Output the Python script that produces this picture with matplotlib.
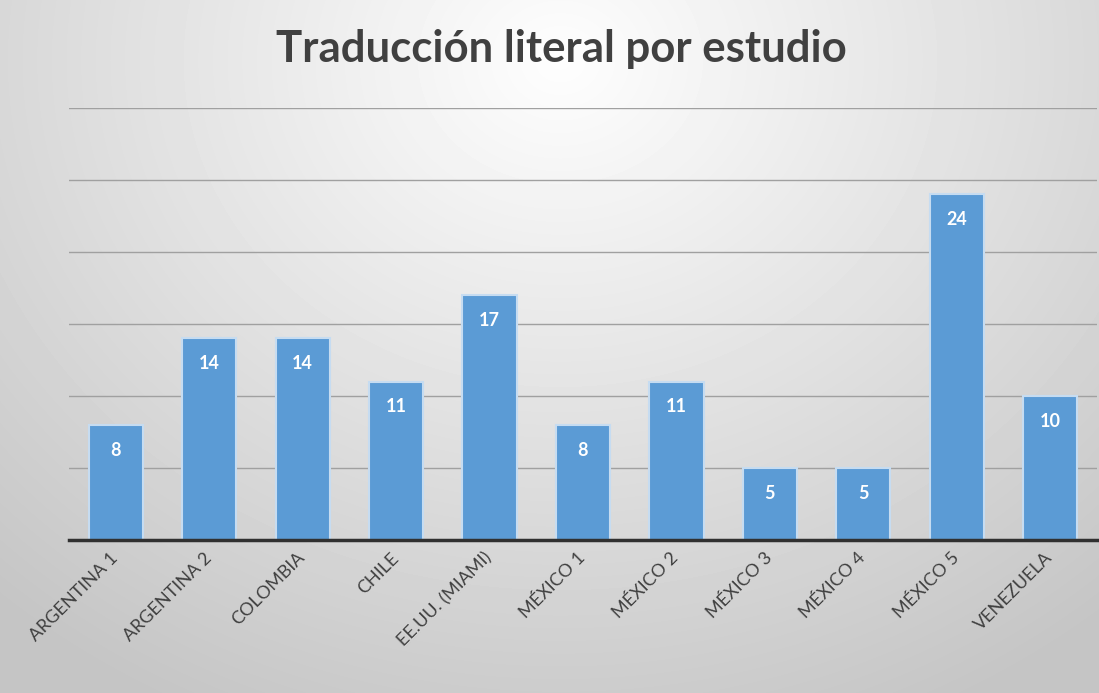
import numpy as np
import matplotlib
matplotlib.use("Agg")
import matplotlib.pyplot as plt
from matplotlib.transforms import ScaledTranslation

estudios = ["ARGENTINA 1", "ARGENTINA 2", "COLOMBIA", "CHILE", "EE.UU. (MIAMI)",
            "MÉXICO 1", "MÉXICO 2", "MÉXICO 3", "MÉXICO 4", "MÉXICO 5", "VENEZUELA"]
valores = [8, 14, 14, 11, 17, 8, 11, 5, 5, 24, 10]

plt.rcParams['font.family'] = ['Lato', 'DejaVu Sans']

fig = plt.figure(figsize=(10.99, 6.93), dpi=100)

# fondo con degradado radial (claro arriba al centro, gris hacia los bordes)
bg = fig.add_axes([0, 0, 1, 1], zorder=0)
yy, xx = np.mgrid[0:693, 0:1099]
d = np.sqrt(((xx - 560) / 900.0) ** 2 + ((yy - 60) / 780.0) ** 2)
gris = np.clip(0.995 - 0.24 * d, 0.77, 1.0)
bg.imshow(gris, cmap='gray', vmin=0, vmax=1, aspect='auto', extent=[0, 1, 0, 1])
bg.axis('off')

ax = fig.add_axes([69 / 1099, 1 - 540 / 693, (1097 - 69) / 1099, (540 - 108) / 693], zorder=1)
ax.patch.set_alpha(0)

x = np.arange(len(estudios))
barras = ax.bar(x, valores, width=0.58, color='#5B9BD5', edgecolor='#C6DCF1',
                linewidth=1.5, zorder=3)

for b, v in zip(barras, valores):
    ax.text(b.get_x() + b.get_width() / 2, v - 1.75, str(v), ha='center', va='center',
            color='white', fontsize=13, fontweight='bold', zorder=4)

ax.set_xlim(-0.5, len(estudios) - 0.5)
ax.set_ylim(0, 30)
ax.set_yticks(np.arange(0, 31, 5))
ax.yaxis.grid(True, color='#a0a0a0', linewidth=1, zorder=0)
ax.tick_params(axis='y', left=False, labelleft=False)
ax.tick_params(axis='x', length=0, pad=7)
ax.set_xticks(x)
ax.set_xticklabels(estudios, rotation=45, ha='right', rotation_mode='anchor',
                   fontsize=13, color='#404040')
desplaza = ScaledTranslation(-6 / 100, 0, fig.dpi_scale_trans)
for lbl in ax.get_xticklabels():
    lbl.set_transform(lbl.get_transform() + desplaza)

for s in ['top', 'right', 'left']:
    ax.spines[s].set_visible(False)
ax.spines['bottom'].set_color('#303030')
ax.spines['bottom'].set_linewidth(2.5)
ax.spines['bottom'].set_zorder(5)

fig.text(0.511, 1 - 49 / 693, 'Traducción literal por estudio', ha='center', va='center',
         fontsize=31.5, fontweight='bold', color='#404040')

fig.savefig('out.png', dpi=100)
